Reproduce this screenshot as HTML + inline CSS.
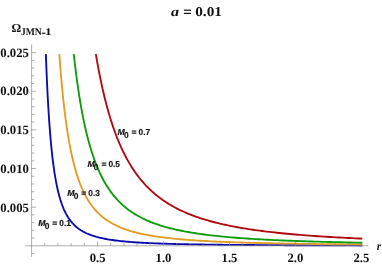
<!DOCTYPE html>
<html><head><meta charset="utf-8"><style>
html,body{margin:0;padding:0;background:#fff}
svg{display:block;will-change:transform}
text{font-family:"Liberation Serif",serif;font-weight:bold;fill:#111;text-rendering:geometricPrecision}
.tl{font-size:12.7px}
.cl{font-family:"Liberation Sans",sans-serif;font-size:8.7px;font-weight:bold;fill:#111;stroke:#111;stroke-width:0.15px}
</style></head><body>
<svg width="382" height="266" viewBox="0 0 382 266">
<rect width="382" height="266" fill="#fff"/>
<polyline points="45.86,54.10 46.14,61.58 46.42,68.77 46.72,75.68 47.01,82.32 47.32,88.70 47.63,94.83 47.94,100.72 48.27,106.38 48.60,111.82 48.93,117.05 49.27,122.07 49.62,126.90 49.98,131.54 50.34,136.00 50.71,140.28 51.09,144.40 51.48,148.36 51.87,152.16 52.27,155.81 52.68,159.33 53.10,162.70 53.53,165.94 53.96,169.06 54.40,172.05 54.86,174.93 55.32,177.70 55.79,180.35 56.27,182.91 56.76,185.36 57.26,187.72 57.77,189.99 58.29,192.16 58.82,194.26 59.36,196.27 59.91,198.20 60.47,200.06 61.05,201.84 61.63,203.56 62.23,205.21 62.84,206.79 63.46,208.31 64.10,209.78 64.75,211.18 65.41,212.53 66.08,213.83 66.77,215.08 67.47,216.28 68.18,217.43 68.91,218.54 69.66,219.60 70.41,220.62 71.19,221.61 71.98,222.55 72.78,223.46 73.61,224.33 74.44,225.17 75.30,225.97 76.17,226.75 77.06,227.49 77.97,228.20 78.90,228.89 79.84,229.55 80.80,230.18 81.79,230.79 82.79,231.38 83.81,231.94 84.86,232.48 85.92,233.00 87.01,233.50 88.11,233.98 89.24,234.44 90.40,234.89 91.57,235.31 92.77,235.72 94.00,236.11 95.24,236.49 96.52,236.86 97.82,237.20 99.14,237.54 100.49,237.86 101.87,238.17 103.28,238.47 104.71,238.76 106.18,239.03 107.67,239.29 109.19,239.55 110.75,239.79 112.33,240.03 113.95,240.25 115.60,240.47 117.28,240.68 119.00,240.88 120.75,241.07 122.53,241.25 124.36,241.43 126.21,241.60 128.11,241.77 130.04,241.92 132.02,242.07 134.03,242.22 136.08,242.36 138.18,242.49 140.31,242.62 142.49,242.75 144.71,242.87 146.98,242.98 149.30,243.09 151.66,243.20 154.06,243.30 156.52,243.40 159.02,243.49 161.58,243.58 164.19,243.67 166.84,243.75 169.56,243.83 172.32,243.91 175.15,243.98 178.03,244.05 180.96,244.12 183.96,244.18 187.02,244.25 190.13,244.31 193.32,244.37 196.56,244.42 199.87,244.48 203.25,244.53 206.69,244.58 210.20,244.63 213.79,244.67 217.44,244.72 221.17,244.76 224.98,244.80 228.86,244.84 232.82,244.87 236.86,244.91 240.98,244.95 245.18,244.98 249.47,245.01 253.84,245.04 258.30,245.07 262.85,245.10 267.50,245.13 272.23,245.15 277.06,245.18 281.99,245.20 287.02,245.23 292.15,245.25 297.38,245.27 302.71,245.29 308.16,245.31 313.71,245.33 319.38,245.35 325.16,245.37 331.05,245.38 337.06,245.40 343.20,245.41 349.46,245.43 355.84,245.44 362.35,245.46" fill="none" stroke="#0a0aae" stroke-width="1.85" stroke-linejoin="round"/>
<polyline points="59.31,54.10 59.75,60.01 60.18,65.74 60.63,71.29 61.08,76.67 61.54,81.88 62.01,86.94 62.49,91.83 62.97,96.58 63.46,101.18 63.96,105.64 64.46,109.96 64.98,114.15 65.50,118.21 66.03,122.14 66.57,125.95 67.12,129.65 67.67,133.23 68.24,136.70 68.81,140.06 69.39,143.32 69.98,146.48 70.59,149.54 71.20,152.51 71.82,155.39 72.45,158.17 73.09,160.87 73.74,163.49 74.40,166.03 75.07,168.49 75.75,170.87 76.44,173.18 77.14,175.42 77.86,177.59 78.58,179.69 79.32,181.73 80.07,183.71 80.83,185.62 81.60,187.48 82.38,189.27 83.18,191.02 83.99,192.71 84.81,194.34 85.64,195.93 86.49,197.47 87.35,198.96 88.23,200.40 89.12,201.80 90.02,203.16 90.94,204.47 91.87,205.75 92.82,206.98 93.78,208.18 94.75,209.34 95.75,210.46 96.75,211.55 97.78,212.61 98.82,213.63 99.87,214.62 100.95,215.58 102.03,216.51 103.14,217.42 104.27,218.29 105.41,219.14 106.57,219.96 107.75,220.76 108.94,221.53 110.16,222.28 111.39,223.00 112.65,223.71 113.92,224.39 115.22,225.05 116.53,225.69 117.87,226.31 119.22,226.91 120.60,227.49 122.00,228.06 123.42,228.60 124.87,229.13 126.33,229.65 127.82,230.14 129.34,230.63 130.88,231.09 132.44,231.55 134.02,231.99 135.64,232.41 137.27,232.83 138.93,233.23 140.62,233.61 142.34,233.99 144.08,234.35 145.85,234.71 147.65,235.05 149.48,235.38 151.33,235.70 153.22,236.01 155.13,236.31 157.08,236.61 159.05,236.89 161.06,237.16 163.10,237.43 165.17,237.69 167.27,237.94 169.41,238.18 171.58,238.42 173.78,238.64 176.02,238.86 178.29,239.08 180.60,239.29 182.95,239.49 185.33,239.68 187.75,239.87 190.21,240.05 192.71,240.23 195.25,240.40 197.83,240.57 200.45,240.73 203.11,240.89 205.81,241.04 208.55,241.18 211.34,241.33 214.17,241.46 217.05,241.60 219.97,241.73 222.94,241.85 225.95,241.97 229.01,242.09 232.12,242.21 235.28,242.32 238.49,242.42 241.75,242.53 245.06,242.63 248.43,242.73 251.84,242.82 255.32,242.91 258.84,243.00 262.42,243.09 266.06,243.17 269.75,243.25 273.51,243.33 277.32,243.41 281.19,243.48 285.13,243.55 289.12,243.62 293.18,243.69 297.31,243.75 301.49,243.82 305.75,243.88 310.07,243.94 314.46,244.00 318.92,244.05 323.45,244.11 328.05,244.16 332.72,244.21 337.47,244.26 342.29,244.30 347.19,244.35 352.16,244.40 357.22,244.44 362.35,244.48" fill="none" stroke="#e19c24" stroke-width="1.85" stroke-linejoin="round"/>
<polyline points="73.77,54.10 74.32,59.02 74.88,63.81 75.44,68.48 76.01,73.02 76.58,77.46 77.17,81.77 77.76,85.98 78.36,90.08 78.97,94.08 79.58,97.97 80.21,101.76 80.84,105.45 81.48,109.05 82.13,112.56 82.78,115.98 83.45,119.31 84.12,122.55 84.81,125.71 85.50,128.79 86.20,131.80 86.91,134.72 87.63,137.57 88.36,140.35 89.10,143.05 89.84,145.69 90.60,148.25 91.37,150.76 92.15,153.19 92.93,155.57 93.73,157.88 94.54,160.14 95.36,162.34 96.19,164.48 97.03,166.56 97.88,168.60 98.75,170.58 99.62,172.51 100.50,174.39 101.40,176.22 102.31,178.00 103.23,179.74 104.16,181.44 105.11,183.09 106.07,184.70 107.04,186.26 108.02,187.79 109.01,189.28 110.02,190.73 111.04,192.14 112.08,193.52 113.13,194.86 114.19,196.16 115.27,197.44 116.36,198.68 117.46,199.89 118.58,201.06 119.71,202.21 120.86,203.33 122.03,204.42 123.20,205.48 124.40,206.51 125.61,207.52 126.83,208.50 128.07,209.46 129.33,210.39 130.61,211.30 131.90,212.19 133.21,213.05 134.53,213.89 135.87,214.71 137.23,215.50 138.61,216.28 140.00,217.04 141.42,217.78 142.85,218.50 144.30,219.20 145.77,219.88 147.26,220.54 148.77,221.19 150.30,221.82 151.85,222.44 153.41,223.04 155.00,223.62 156.61,224.19 158.24,224.74 159.90,225.28 161.57,225.81 163.27,226.32 164.98,226.82 166.72,227.31 168.49,227.78 170.27,228.25 172.08,228.70 173.92,229.13 175.77,229.56 177.66,229.98 179.56,230.38 181.49,230.78 183.45,231.16 185.43,231.54 187.44,231.91 189.47,232.26 191.53,232.61 193.62,232.95 195.74,233.28 197.88,233.60 200.05,233.91 202.25,234.22 204.47,234.51 206.73,234.80 209.02,235.09 211.33,235.36 213.68,235.63 216.06,235.89 218.47,236.14 220.91,236.39 223.38,236.63 225.88,236.87 228.42,237.10 230.99,237.32 233.59,237.54 236.23,237.75 238.90,237.96 241.61,238.16 244.35,238.35 247.13,238.54 249.94,238.73 252.80,238.91 255.68,239.09 258.61,239.26 261.58,239.43 264.58,239.59 267.62,239.75 270.70,239.91 273.83,240.06 276.99,240.20 280.20,240.35 283.44,240.49 286.73,240.62 290.06,240.76 293.44,240.89 296.86,241.01 300.33,241.14 303.84,241.25 307.39,241.37 311.00,241.48 314.64,241.60 318.34,241.70 322.09,241.81 325.88,241.91 329.73,242.01 333.62,242.11 337.57,242.20 341.57,242.29 345.62,242.38 349.72,242.47 353.87,242.56 358.08,242.64 362.35,242.72" fill="none" stroke="#0c9c0c" stroke-width="1.85" stroke-linejoin="round"/>
<polyline points="95.86,54.10 96.53,58.02 97.20,61.86 97.88,65.62 98.56,69.30 99.25,72.91 99.95,76.45 100.66,79.91 101.37,83.30 102.09,86.62 102.82,89.88 103.56,93.06 104.30,96.19 105.05,99.24 105.81,102.24 106.58,105.18 107.36,108.05 108.14,110.87 108.93,113.63 109.73,116.33 110.54,118.97 111.35,121.57 112.18,124.11 113.01,126.60 113.86,129.03 114.71,131.42 115.57,133.76 116.43,136.05 117.31,138.29 118.20,140.49 119.09,142.64 120.00,144.75 120.91,146.82 121.84,148.84 122.77,150.82 123.72,152.77 124.67,154.67 125.63,156.53 126.60,158.36 127.59,160.14 128.58,161.89 129.58,163.61 130.60,165.29 131.62,166.94 132.66,168.55 133.70,170.13 134.76,171.68 135.83,173.19 136.91,174.67 138.00,176.13 139.10,177.55 140.21,178.95 141.34,180.32 142.47,181.65 143.62,182.97 144.78,184.25 145.95,185.51 147.14,186.74 148.33,187.95 149.54,189.13 150.76,190.29 152.00,191.42 153.24,192.54 154.50,193.63 155.78,194.69 157.06,195.74 158.36,196.76 159.68,197.76 161.00,198.74 162.34,199.71 163.70,200.65 165.06,201.57 166.45,202.48 167.84,203.36 169.26,204.23 170.68,205.08 172.12,205.91 173.58,206.73 175.05,207.53 176.53,208.31 178.04,209.08 179.55,209.83 181.09,210.56 182.64,211.28 184.20,211.99 185.78,212.68 187.38,213.36 188.99,214.02 190.62,214.67 192.27,215.31 193.94,215.93 195.62,216.54 197.32,217.14 199.04,217.72 200.77,218.30 202.52,218.86 204.30,219.41 206.08,219.95 207.89,220.48 209.72,221.00 211.57,221.50 213.43,222.00 215.32,222.49 217.22,222.96 219.14,223.43 221.09,223.89 223.05,224.34 225.04,224.77 227.04,225.20 229.07,225.63 231.11,226.04 233.18,226.44 235.27,226.84 237.38,227.23 239.52,227.61 241.67,227.98 243.85,228.34 246.05,228.70 248.27,229.05 250.52,229.39 252.79,229.73 255.08,230.05 257.40,230.38 259.74,230.69 262.11,231.00 264.50,231.30 266.91,231.60 269.35,231.89 271.82,232.17 274.31,232.45 276.82,232.73 279.37,232.99 281.93,233.25 284.53,233.51 287.15,233.76 289.80,234.01 292.48,234.25 295.19,234.49 297.92,234.72 300.68,234.94 303.47,235.17 306.29,235.38 309.14,235.60 312.02,235.80 314.92,236.01 317.86,236.21 320.83,236.41 323.83,236.60 326.86,236.79 329.92,236.97 333.02,237.15 336.14,237.33 339.30,237.50 342.49,237.67 345.72,237.84 348.98,238.00 352.27,238.16 355.59,238.31 358.95,238.47 362.35,238.62" fill="none" stroke="#b00a10" stroke-width="1.85" stroke-linejoin="round"/>
<g stroke="#8a8a8a" stroke-width="0.7" fill="none">
<line x1="31.60" y1="44.5" x2="31.60" y2="256.8"/>
<line x1="25.2" y1="245.80" x2="368.3" y2="245.80"/>
<line x1="31.60" y1="253.53" x2="34.30" y2="253.53"/>
<line x1="31.60" y1="238.07" x2="34.30" y2="238.07"/>
<line x1="31.60" y1="230.34" x2="34.30" y2="230.34"/>
<line x1="31.60" y1="222.62" x2="34.30" y2="222.62"/>
<line x1="31.60" y1="214.89" x2="34.30" y2="214.89"/>
<line x1="31.60" y1="207.16" x2="35.90" y2="207.16"/>
<line x1="31.60" y1="199.43" x2="34.30" y2="199.43"/>
<line x1="31.60" y1="191.70" x2="34.30" y2="191.70"/>
<line x1="31.60" y1="183.98" x2="34.30" y2="183.98"/>
<line x1="31.60" y1="176.25" x2="34.30" y2="176.25"/>
<line x1="31.60" y1="168.52" x2="35.90" y2="168.52"/>
<line x1="31.60" y1="160.79" x2="34.30" y2="160.79"/>
<line x1="31.60" y1="153.06" x2="34.30" y2="153.06"/>
<line x1="31.60" y1="145.34" x2="34.30" y2="145.34"/>
<line x1="31.60" y1="137.61" x2="34.30" y2="137.61"/>
<line x1="31.60" y1="129.88" x2="35.90" y2="129.88"/>
<line x1="31.60" y1="122.15" x2="34.30" y2="122.15"/>
<line x1="31.60" y1="114.42" x2="34.30" y2="114.42"/>
<line x1="31.60" y1="106.70" x2="34.30" y2="106.70"/>
<line x1="31.60" y1="98.97" x2="34.30" y2="98.97"/>
<line x1="31.60" y1="91.24" x2="35.90" y2="91.24"/>
<line x1="31.60" y1="83.51" x2="34.30" y2="83.51"/>
<line x1="31.60" y1="75.78" x2="34.30" y2="75.78"/>
<line x1="31.60" y1="68.06" x2="34.30" y2="68.06"/>
<line x1="31.60" y1="60.33" x2="34.30" y2="60.33"/>
<line x1="31.60" y1="52.60" x2="35.90" y2="52.60"/>
<line x1="44.79" y1="245.80" x2="44.79" y2="243.10"/>
<line x1="57.98" y1="245.80" x2="57.98" y2="243.10"/>
<line x1="71.17" y1="245.80" x2="71.17" y2="243.10"/>
<line x1="84.36" y1="245.80" x2="84.36" y2="243.10"/>
<line x1="97.55" y1="245.80" x2="97.55" y2="241.50"/>
<line x1="110.74" y1="245.80" x2="110.74" y2="243.10"/>
<line x1="123.93" y1="245.80" x2="123.93" y2="243.10"/>
<line x1="137.12" y1="245.80" x2="137.12" y2="243.10"/>
<line x1="150.31" y1="245.80" x2="150.31" y2="243.10"/>
<line x1="163.50" y1="245.80" x2="163.50" y2="241.50"/>
<line x1="176.69" y1="245.80" x2="176.69" y2="243.10"/>
<line x1="189.88" y1="245.80" x2="189.88" y2="243.10"/>
<line x1="203.07" y1="245.80" x2="203.07" y2="243.10"/>
<line x1="216.26" y1="245.80" x2="216.26" y2="243.10"/>
<line x1="229.45" y1="245.80" x2="229.45" y2="241.50"/>
<line x1="242.64" y1="245.80" x2="242.64" y2="243.10"/>
<line x1="255.83" y1="245.80" x2="255.83" y2="243.10"/>
<line x1="269.02" y1="245.80" x2="269.02" y2="243.10"/>
<line x1="282.21" y1="245.80" x2="282.21" y2="243.10"/>
<line x1="295.40" y1="245.80" x2="295.40" y2="241.50"/>
<line x1="308.59" y1="245.80" x2="308.59" y2="243.10"/>
<line x1="321.78" y1="245.80" x2="321.78" y2="243.10"/>
<line x1="334.97" y1="245.80" x2="334.97" y2="243.10"/>
<line x1="348.16" y1="245.80" x2="348.16" y2="243.10"/>
<line x1="361.35" y1="245.80" x2="361.35" y2="241.50"/>
</g>
<text class="tl" x="0.3" y="211.56">0.005</text><text class="tl" x="0.3" y="172.83">0.010</text><text class="tl" x="0.3" y="134.10">0.015</text><text class="tl" x="0.3" y="95.38">0.020</text><text class="tl" x="0.3" y="56.65">0.025</text>
<text class="tl" x="89.65" y="262.1">0.5</text><text class="tl" x="155.60" y="262.1">1.0</text><text class="tl" x="221.55" y="262.1">1.5</text><text class="tl" x="287.50" y="262.1">2.0</text><text class="tl" x="353.45" y="262.1">2.5</text>
<text x="170.9" y="16.1" font-size="13.5" font-style="italic" textLength="8.1" lengthAdjust="spacingAndGlyphs">a</text>
<rect x="183.9" y="9.6" width="7.1" height="1.2" fill="#111"/><rect x="183.9" y="12.8" width="7.1" height="1.2" fill="#111"/>
<text x="195.2" y="16.1" font-size="13.5" textLength="26.8" lengthAdjust="spacingAndGlyphs">0.01</text>
<text x="11.5" y="31.8" font-size="12.1" textLength="9.7" lengthAdjust="spacingAndGlyphs">Ω</text>
<text x="20.9" y="35.2" font-size="10.2" textLength="20.8" lengthAdjust="spacingAndGlyphs">JMN</text>
<rect x="41.7" y="32.7" width="3.8" height="1.1" fill="#111"/>
<text x="45.1" y="35.2" font-size="10.2" textLength="6.6" lengthAdjust="spacingAndGlyphs">1</text>
<text x="376.8" y="249.6" font-size="12" font-style="italic" textLength="4.4" lengthAdjust="spacingAndGlyphs">r</text>
<text class="cl" x="38.30" y="226.40" font-style="italic">M</text><text class="cl" x="44.70" y="229.30" font-size="9.2" textLength="4.7" lengthAdjust="spacingAndGlyphs">0</text><text class="cl" x="52.30" y="226.40">=</text><text class="cl" x="59.30" y="226.40" textLength="11.6" lengthAdjust="spacingAndGlyphs">0.1</text>
<text class="cl" x="67.35" y="196.40" font-style="italic">M</text><text class="cl" x="73.75" y="199.30" font-size="9.2" textLength="4.7" lengthAdjust="spacingAndGlyphs">0</text><text class="cl" x="81.35" y="196.40">=</text><text class="cl" x="88.35" y="196.40" textLength="11.6" lengthAdjust="spacingAndGlyphs">0.3</text>
<text class="cl" x="87.40" y="167.35" font-style="italic">M</text><text class="cl" x="93.80" y="170.25" font-size="9.2" textLength="4.7" lengthAdjust="spacingAndGlyphs">0</text><text class="cl" x="101.40" y="167.35">=</text><text class="cl" x="108.40" y="167.35" textLength="11.6" lengthAdjust="spacingAndGlyphs">0.5</text>
<text class="cl" x="117.60" y="134.70" font-style="italic">M</text><text class="cl" x="124.00" y="137.60" font-size="9.2" textLength="4.7" lengthAdjust="spacingAndGlyphs">0</text><text class="cl" x="131.60" y="134.70">=</text><text class="cl" x="138.60" y="134.70" textLength="11.6" lengthAdjust="spacingAndGlyphs">0.7</text>
</svg></body></html>
